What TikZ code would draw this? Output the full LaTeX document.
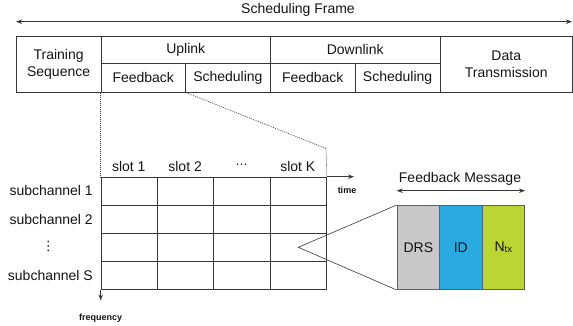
\documentclass[tikz,border=0pt]{standalone}
\usepackage{fontspec}
\setmainfont{Liberation Sans}
\newfontfamily\symfont{DejaVu Sans}
\usetikzlibrary{arrows.meta}
\definecolor{drsgray}{RGB}{200,200,202}
\definecolor{idblue}{RGB}{41,171,226}
\definecolor{ntxgreen}{RGB}{187,214,50}
\definecolor{rulegray}{RGB}{55,55,55}
\definecolor{boxedge}{RGB}{95,95,95}
\definecolor{ink}{RGB}{20,20,20}

\begin{document}
\begin{tikzpicture}[x=1pt,y=-1pt,
  lbl/.style={font=\fontsize{14}{16.7}\selectfont, text=ink, inner sep=0pt, align=center},
  tiny/.style={font=\bfseries\fontsize{9}{10}\selectfont, text=ink, inner sep=0pt},
  fcell/.style={draw=rulegray, line width=0.8pt, anchor=north west, inner sep=0pt,
                font=\fontsize{14}{16.7}\selectfont, text=ink, align=center},
  gcell/.style={draw=rulegray, line width=0.8pt, anchor=north west, inner sep=0pt,
                minimum width=56.33pt, minimum height=28.15pt},
  mcell/.style={draw=boxedge, line width=1pt, anchor=north west, inner sep=0pt,
                minimum width=42.43pt, minimum height=84pt,
                font=\fontsize{14}{16.7}\selectfont, text=ink},
  guide/.style={rulegray, line width=0.6pt, dash pattern=on 1pt off 1pt},
  axis/.style={rulegray, line width=0.8pt},
  tip/.style={-{Stealth[length=6pt,width=4.5pt]}},
  bitip/.style={{Stealth[length=6pt,width=4.5pt]}-{Stealth[length=6pt,width=4.5pt]}},
  ]
\useasboundingbox (0,0) rectangle (573,325);

% overall frame span
\coordinate (fl) at (16,21.7);
\coordinate (fr) at (572,21.7);
\draw[axis,bitip] (fl) -- (fr);
\node[lbl] (frametitle) at (298,10) {Scheduling Frame};

% frame structure
\node[fcell, minimum width=85pt, minimum height=56pt] (train) at (15.7,35.7) {Training\\Sequence};
\node[fcell, minimum width=169.3pt, minimum height=27.6pt] (ul) at (100.7,35.7) {Uplink};
\node[fcell, minimum width=84.3pt, minimum height=28.4pt] (ulfb) at (100.7,63.3) {Feedback};
\node[fcell, minimum width=85pt, minimum height=28.4pt] (ulsc) at (185,63.3) {Scheduling};
\node[fcell, minimum width=169.7pt, minimum height=27.6pt] (dl) at (270,35.7) {Downlink};
\node[fcell, minimum width=84.7pt, minimum height=28.4pt] (dlfb) at (270,63.3) {Feedback};
\node[fcell, minimum width=85pt, minimum height=28.4pt] (dlsc) at (354.7,63.3) {Scheduling};
\node[fcell, minimum width=132.3pt, minimum height=56pt] (data) at (439.7,35.7) {Data\\Transmission};

% time-frequency grid
\foreach \r in {1,...,4}{
  \foreach \c in {1,...,4}{
    \node[gcell] (g-\r-\c) at ({100.7+(\c-1)*56.33},{176.7+(\r-1)*28.15}) {};
  }
}

% slot labels
\node[lbl] (s1) at (128.8,166) {slot 1};
\node[lbl] (s2) at (185.1,166) {slot 2};
\node[lbl, font=\symfont\fontsize{12}{14}\selectfont] (s3) at (241.5,166) {⋯};
\node[lbl] (s4) at (297.8,166) {slot K};

% subchannel labels
\node[lbl, anchor=east] (c1) at (93,190.8) {subchannel 1};
\node[lbl, anchor=east] (c2) at (93,219) {subchannel 2};
\node[lbl, font=\symfont\fontsize{13}{15}\selectfont] (c3) at (48.3,246.5) {⋮};
\node[lbl, anchor=east] (c4) at (93,275.3) {subchannel S};

% axes
\coordinate (tend) at (354,176.7);
\coordinate (fend) at (100.7,300.5);
\draw[axis,tip] (g-1-4.north east) -- (tend);
\draw[axis,tip] (g-4-1.south west) -- (fend);
\node[tiny] (timelbl) at (347,190.7) {time};
\node[tiny] (freqlbl) at (100.7,318) {frequency};

% zoom guides from the uplink feedback field
\coordinate (bend) at (326,148.5);
\draw[guide] (ulfb.south west) -- (g-1-1.north west);
\draw[guide] (ulfb.south east) -- (bend) -- (g-1-4.north east);

% feedback message
\node[mcell, fill=drsgray] (drs) at (396.7,205) {DRS};
\node[mcell, fill=idblue] (id) at (439.13,205) {ID};
\node[mcell, fill=ntxgreen] (ntx) at (481.57,205) {N\raisebox{-0.8pt}{\fontsize{9.5}{10}\selectfont tx}};

\coordinate (zp) at (298.3,247.3);
\draw[rulegray, line width=0.6pt] (drs.north west) -- (zp) -- (drs.south west);

\node[lbl] (fbmsg) at (460,179.3) {Feedback Message};
\draw[axis,bitip] (drs.north west |- 0,190.7) -- (ntx.north east |- 0,190.7);
\end{tikzpicture}
\end{document}
